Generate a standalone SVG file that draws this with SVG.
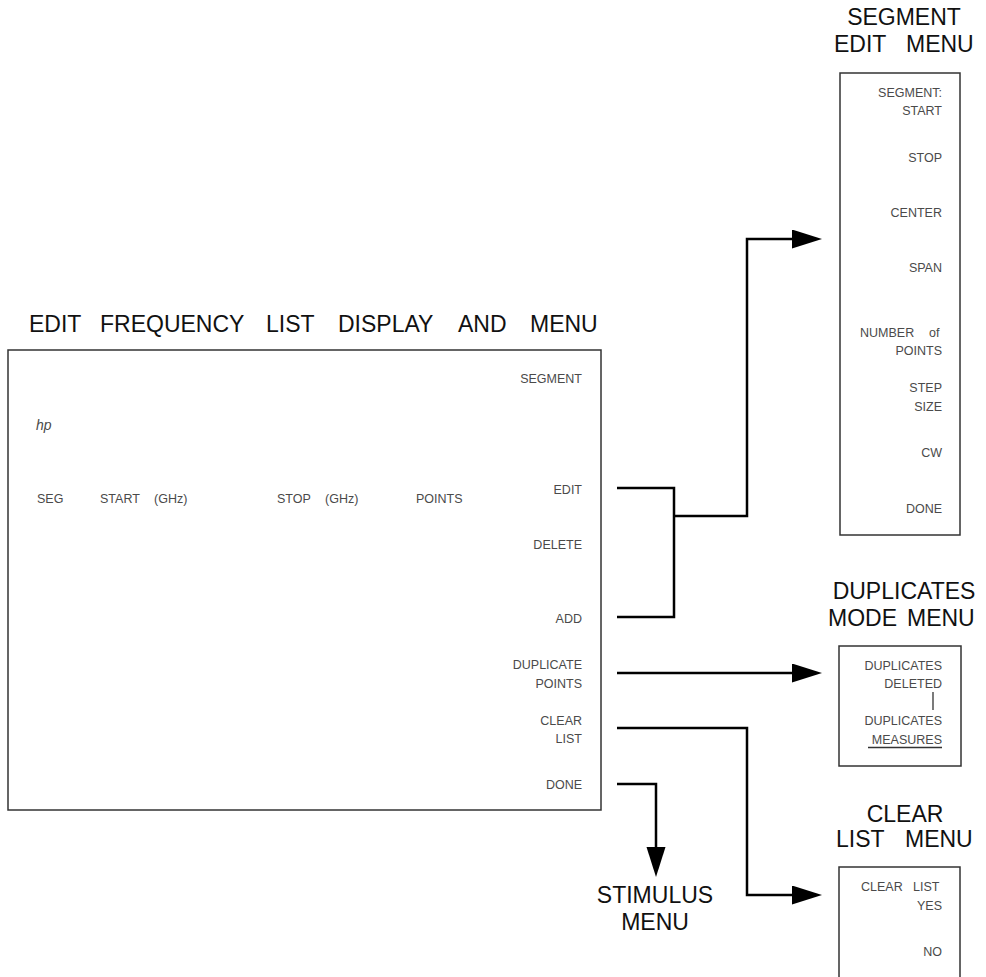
<svg xmlns="http://www.w3.org/2000/svg" width="986" height="977" viewBox="0 0 986 977">
<style>
.box{fill:#fff;stroke:#333;stroke-width:1.5}
.t{font-family:"Liberation Sans",Arial,sans-serif;font-size:12.5px;fill:#4a4a4a}
.r{text-anchor:end}
.h{font-family:"Liberation Sans",Arial,sans-serif;font-size:23px;fill:#111}
.c{text-anchor:middle}
.ln{fill:none;stroke:#000;stroke-width:2.5}
</style>
<defs>
<marker id="ah" markerUnits="userSpaceOnUse" markerWidth="30" markerHeight="20" refX="0" refY="9.5" orient="auto">
<path d="M0,0 L30,9.5 L0,19 z" fill="#000"/>
</marker>
</defs>
<rect width="986" height="977" fill="#fff"/>

<g id="main">
<text class="h" y="332"><tspan x="29">EDIT</tspan><tspan x="100">FREQUENCY</tspan><tspan x="266">LIST</tspan><tspan x="338">DISPLAY</tspan><tspan x="458">AND</tspan><tspan x="530">MENU</tspan></text>
<rect class="box" x="8" y="350" width="593" height="460"/>
<text x="36" y="430" font-family="Liberation Sans,Arial,sans-serif" font-size="14" font-style="italic" fill="#4a4a4a">hp</text>
<text class="t" x="37" y="502.5">SEG</text>
<text class="t" y="502.5"><tspan x="100">START</tspan><tspan x="154">(GHz)</tspan></text>
<text class="t" y="502.5"><tspan x="277">STOP</tspan><tspan x="325">(GHz)</tspan></text>
<text class="t" x="416" y="502.5">POINTS</text>
<text class="t r" x="582" y="383">SEGMENT</text>
<text class="t r" x="582" y="493.5">EDIT</text>
<text class="t r" x="582" y="549">DELETE</text>
<text class="t r" x="582" y="622.5">ADD</text>
<text class="t r" x="582" y="668.5">DUPLICATE</text>
<text class="t r" x="582" y="687.5">POINTS</text>
<text class="t r" x="582" y="724.5">CLEAR</text>
<text class="t r" x="582" y="742.5">LIST</text>
<text class="t r" x="582" y="788.5">DONE</text>
</g>

<g id="segment-edit-menu">
<text class="h c" x="904" y="25">SEGMENT</text>
<text class="h" y="52"><tspan x="834">EDIT</tspan><tspan x="906">MENU</tspan></text>
<rect class="box" x="840" y="73" width="120" height="462"/>
<text class="t r" x="942" y="96.5">SEGMENT:</text>
<text class="t r" x="942" y="114.5">START</text>
<text class="t r" x="942" y="161.5">STOP</text>
<text class="t r" x="942" y="216.5">CENTER</text>
<text class="t r" x="942" y="271.5">SPAN</text>
<text class="t" y="336.5"><tspan x="860">NUMBER</tspan><tspan x="929">of</tspan></text>
<text class="t r" x="942" y="354.5">POINTS</text>
<text class="t r" x="942" y="391.5">STEP</text>
<text class="t r" x="942" y="410.5">SIZE</text>
<text class="t r" x="942" y="456.5">CW</text>
<text class="t r" x="942" y="512.5">DONE</text>
</g>

<g id="duplicates-mode-menu">
<text class="h c" x="904" y="599">DUPLICATES</text>
<text class="h" y="626"><tspan x="828">MODE</tspan><tspan x="907">MENU</tspan></text>
<rect class="box" x="839" y="646" width="122" height="120"/>
<text class="t r" x="942" y="669.5">DUPLICATES</text>
<text class="t r" x="942" y="687.5">DELETED</text>
<line x1="933" y1="692" x2="933" y2="710" stroke="#333" stroke-width="1.3"/>
<text class="t r" x="942" y="724.5">DUPLICATES</text>
<text class="t r" x="942" y="743.5">MEASURES</text>
<line x1="868" y1="747.5" x2="942" y2="747.5" stroke="#333" stroke-width="1.3"/>
</g>

<g id="clear-list-menu">
<text class="h c" x="905" y="822">CLEAR</text>
<text class="h" y="847"><tspan x="836">LIST</tspan><tspan x="905">MENU</tspan></text>
<rect class="box" x="839" y="867" width="121" height="130"/>
<text class="t" y="890.5"><tspan x="861">CLEAR</tspan><tspan x="913">LIST</tspan></text>
<text class="t r" x="942" y="909.5">YES</text>
<text class="t r" x="942" y="955.5">NO</text>
</g>

<g id="stimulus-menu">
<text class="h c" x="655" y="903">STIMULUS</text>
<text class="h c" x="655" y="930">MENU</text>
</g>

<g id="connectors">
<path class="ln" d="M617 488 H674 V617 H617"/>
<path class="ln" d="M674 516 H747 V239 H792" marker-end="url(#ah)"/>
<path class="ln" d="M617 673 H792" marker-end="url(#ah)"/>
<path class="ln" d="M617 728 H747 V895 H792" marker-end="url(#ah)"/>
<path class="ln" d="M617 784 H656 V847" marker-end="url(#ah)"/>
</g>
</svg>
